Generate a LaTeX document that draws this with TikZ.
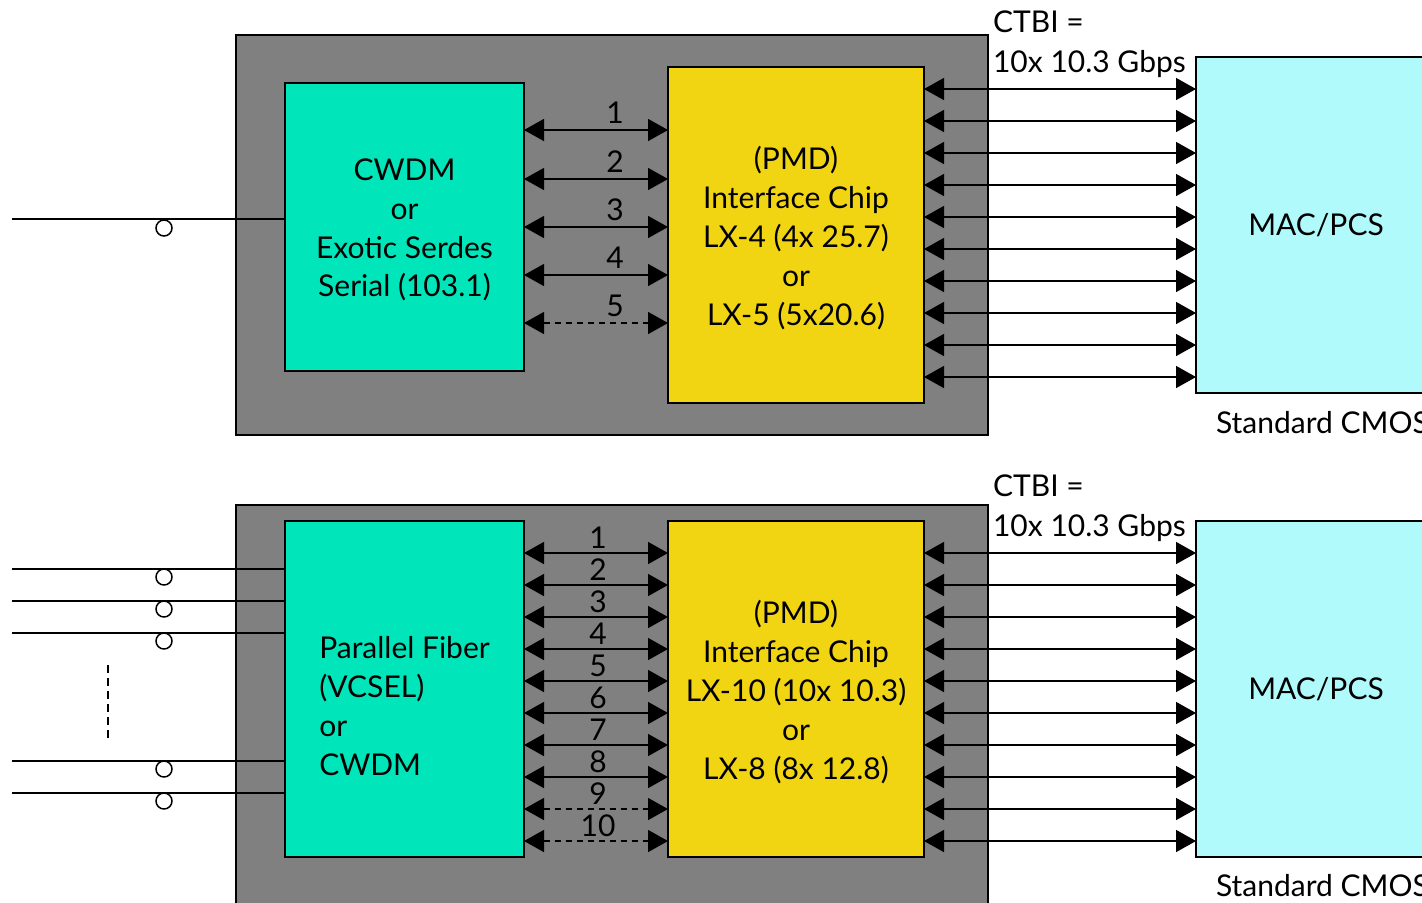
\documentclass[tikz,border=0pt]{standalone}
\usepackage{fontspec}
\setmainfont{Lato}
\usepackage{xcolor}
\usetikzlibrary{arrows.meta}
\definecolor{shellgray}{RGB}{128,128,128}
\definecolor{opticgreen}{RGB}{0,229,186}
\definecolor{pmdyellow}{RGB}{242,213,18}
\definecolor{maccyan}{RGB}{176,250,252}

\begin{document}
\begin{tikzpicture}[
  x=0.5pt, y=-0.5pt,
  font=\fontsize{15}{19.4}\selectfont,
  blk/.style={draw, line width=0.7pt, inner sep=0pt, outer sep=0pt, align=center},
  link/.style={{Triangle[length=10pt,width=11pt]}-{Triangle[length=10pt,width=11pt]}, line width=0.75pt},
  lanedash/.style={dash pattern=on 3pt off 2.5pt},
  fiber/.style={line width=0.75pt},
  port/.style={circle, draw, line width=0.75pt, fill=white, minimum size=8pt, inner sep=0pt}]

\useasboundingbox (0,0) rectangle (1422,902);
\clip (0,0) rectangle (1422,902);

% Top: serial optics
\node[blk, fill=shellgray, minimum width=376pt, minimum height=200pt] (shell1) at (612,235) {};
\node[blk, fill=opticgreen, minimum width=119.5pt, minimum height=144pt] (optics1) at (404.5,227) {};
\node (optics1txt) at (404.5,230) [align=center] {CWDM\\or\\Exotic Serdes\\Serial (103.1)};
\node[blk, fill=pmdyellow, minimum width=128pt, minimum height=168pt] (pmd1) at (796,235) {};
\node (pmd1txt) at (796,238) [align=center] {(PMD)\\Interface Chip\\LX-4 (4x 25.7)\\or\\LX-5 (5x20.6)};
\node[blk, fill=maccyan, minimum width=120pt, minimum height=168pt] (mac1) at (1316,225) {MAC/PCS};
\node[anchor=west] (cmos1) at (1209,423) {Standard CMOS};
\node[anchor=west, align=left, font=\fontsize{15}{20}\selectfont] (ctbi1) at (986,44) {CTBI =\\10x 10.3 Gbps};

\foreach \y/\lbl/\sty in {130/1/solid, 179/2/solid, 227/3/solid, 275/4/solid, 323/5/lanedash}{
  \draw[link, \sty] (optics1.east |- 0,\y) -- (pmd1.west |- 0,\y);
  \node (lane1-\lbl) at (615,\y-17) {\lbl};
}
\foreach \i in {0,...,9}
  \draw[link] (pmd1.east |- 0,89+32*\i) -- (mac1.west |- 0,89+32*\i);

\coordinate (fib1) at (12,219);
\draw[fiber] (fib1) -- (fib1 -| optics1.west);
\node[port] (port1) at (164,228) {};

% Bottom: parallel optics
\node[blk, fill=shellgray, minimum width=376pt, minimum height=215pt] (shell2) at (612,720) {};
\node[blk, fill=opticgreen, minimum width=119.5pt, minimum height=168pt] (optics2) at (404.5,689) {};
\node[align=left] (optics2txt) at (404.5,706) {Parallel Fiber\\(VCSEL)\\or\\CWDM};
\node[blk, fill=pmdyellow, minimum width=128pt, minimum height=168pt] (pmd2) at (796,689) {};
\node (pmd2txt) at (796,692) [align=center] {(PMD)\\Interface Chip\\LX-10 (10x 10.3)\\or\\LX-8 (8x 12.8)};
\node[blk, fill=maccyan, minimum width=120pt, minimum height=168pt] (mac2) at (1316,689) {MAC/PCS};
\node[anchor=west] (cmos2) at (1209,886) {Standard CMOS};
\node[anchor=west, align=left, font=\fontsize{15}{20}\selectfont] (ctbi2) at (986,508) {CTBI =\\10x 10.3 Gbps};

\foreach \i in {0,...,9}{
  \pgfmathtruncatemacro{\lbl}{\i+1}
  \ifnum\i>7 \def\sty{lanedash}\else\def\sty{solid}\fi
  \draw[link, \sty] (optics2.east |- 0,553+32*\i) -- (pmd2.west |- 0,553+32*\i);
  \node (lane2-\lbl) at (598,538+32*\i) {\lbl};
  \draw[link] (pmd2.east |- 0,553+32*\i) -- (mac2.west |- 0,553+32*\i);
}

\foreach \y/\n in {569/a, 601/b, 633/c, 761/d, 793/e}{
  \coordinate (fib2\n) at (12,\y);
  \draw[fiber] (fib2\n) -- (fib2\n -| optics2.west);
  \node[port] (port2\n) at (164,\y+8) {};
}
\coordinate (gapT) at (108,665);
\coordinate (gapB) at (108,740);
\draw[fiber, dash pattern=on 4pt off 2.5pt] (gapT) -- (gapB);
\end{tikzpicture}
\end{document}
